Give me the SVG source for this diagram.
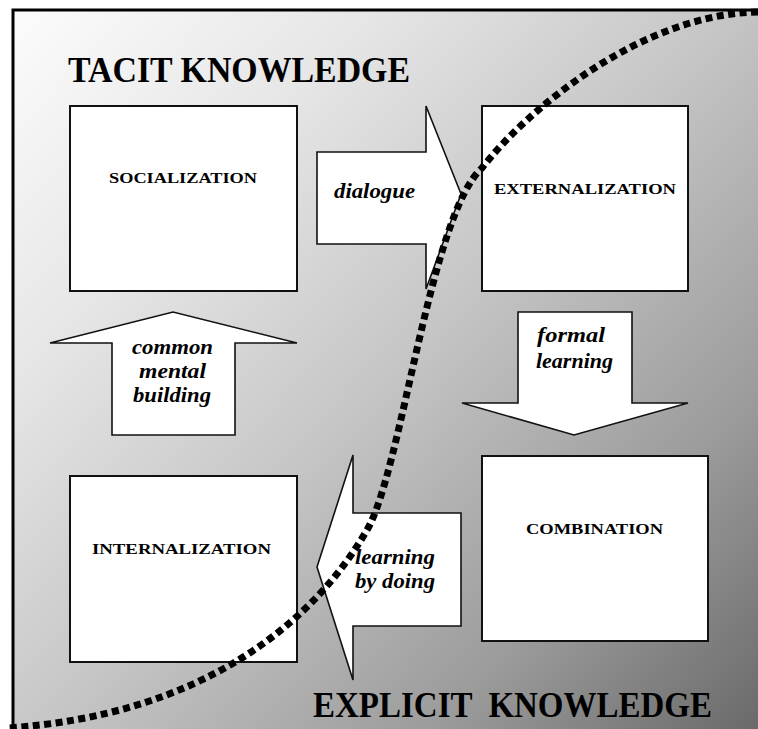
<svg xmlns="http://www.w3.org/2000/svg" width="758" height="729" viewBox="0 0 758 729">
  <defs>
    <linearGradient id="bg" gradientUnits="userSpaceOnUse" x1="13" y1="10" x2="758" y2="729">
      <stop offset="0" stop-color="#fcfcfc"/>
      <stop offset="0.25" stop-color="#e6e6e6"/>
      <stop offset="0.5" stop-color="#c6c6c6"/>
      <stop offset="0.77" stop-color="#9c9c9c"/>
      <stop offset="1" stop-color="#6a6a6a"/>
    </linearGradient>
  </defs>
  <style>
    .box { fill: #ffffff; stroke: #111111; stroke-width: 2; }
    .arrow { fill: #ffffff; stroke: #111111; stroke-width: 1.6; stroke-linejoin: miter; }
    .mode { font-family: "Liberation Serif", "Times New Roman", serif; font-weight: bold; font-size: 15px; fill: #000; }
    .verb { font-family: "Liberation Serif", "Times New Roman", serif; font-weight: bold; font-style: italic; font-size: 22px; fill: #000; }
    .title { font-family: "Liberation Serif", "Times New Roman", serif; font-weight: bold; font-size: 36px; fill: #000; }
    .divide { fill: none; stroke: #000; stroke-width: 7; stroke-dasharray: 7 4.5; }
  </style>

  <!-- backdrop and frame -->
  <rect x="0" y="0" width="758" height="729" fill="#ffffff"/>
  <rect x="13" y="10" width="760" height="730" fill="url(#bg)" stroke="#000" stroke-width="3"/>

  <!-- headings -->
  <text class="title" x="68" y="82" textLength="342" lengthAdjust="spacingAndGlyphs">TACIT KNOWLEDGE</text>
  <text class="title" x="313" y="717" font-size="34" textLength="399" lengthAdjust="spacingAndGlyphs" xml:space="preserve">EXPLICIT  KNOWLEDGE</text>

  <!-- the four knowledge-conversion modes -->
  <g id="socialization">
    <rect class="box" x="70" y="106" width="227" height="185"/>
    <text class="mode" x="109" y="183" textLength="148" lengthAdjust="spacingAndGlyphs">SOCIALIZATION</text>
  </g>
  <g id="externalization">
    <rect class="box" x="482" y="106" width="206" height="185"/>
    <text class="mode" x="494" y="194" textLength="182" lengthAdjust="spacingAndGlyphs">EXTERNALIZATION</text>
  </g>
  <g id="combination">
    <rect class="box" x="482" y="456" width="226" height="185"/>
    <text class="mode" x="526" y="534" textLength="137" lengthAdjust="spacingAndGlyphs">COMBINATION</text>
  </g>
  <g id="internalization">
    <rect class="box" x="70" y="476" width="227" height="186"/>
    <text class="mode" x="92" y="554" textLength="179" lengthAdjust="spacingAndGlyphs">INTERNALIZATION</text>
  </g>

  <!-- block arrows between the modes -->
  <g id="connectors">
    <g id="dialogue">
      <path class="arrow" d="M317 152 H426 V106 L461 194 L426 289 V244 H317 Z"/>
      <text class="verb" x="334" y="198" font-size="21" textLength="81" lengthAdjust="spacingAndGlyphs">dialogue</text>
    </g>
    <g id="formal-learning">
      <path class="arrow" d="M518 312 H632 V403 H688 L574 435 L462 403 H518 Z"/>
      <text class="verb" x="537" y="342" textLength="68" lengthAdjust="spacingAndGlyphs">formal</text>
      <text class="verb" x="536" y="368" textLength="77" lengthAdjust="spacingAndGlyphs">learning</text>
    </g>
    <g id="learning-by-doing">
      <path class="arrow" d="M461 513 V626 H353 V680 L317 567 L353 455 V513 Z"/>
      <text class="verb" x="355" y="564" textLength="80" lengthAdjust="spacingAndGlyphs">learning</text>
      <text class="verb" x="355" y="588" textLength="80" lengthAdjust="spacingAndGlyphs" xml:space="preserve">by doing</text>
    </g>
    <g id="common-mental-building">
      <path class="arrow" d="M112 435 V343 H50 L173 312 L297 343 H235 V435 Z"/>
      <text class="verb" x="132" y="354" textLength="81" lengthAdjust="spacingAndGlyphs">common</text>
      <text class="verb" x="139" y="378" textLength="67" lengthAdjust="spacingAndGlyphs">mental</text>
      <text class="verb" x="133" y="402" textLength="78" lengthAdjust="spacingAndGlyphs">building</text>
    </g>
  </g>

  <!-- dotted boundary between tacit and explicit -->
  <path class="divide" d="M758 12 C640 14 525 112 482 168 C430 215 402 470 367 530 C312 625 200 715 8 728"/>
</svg>
